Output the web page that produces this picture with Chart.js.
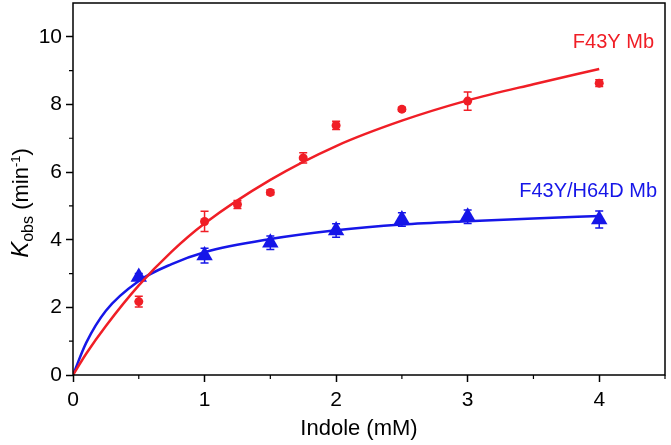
<!DOCTYPE html>
<html>
<head>
<meta charset="utf-8">
<script src="https://cdn.jsdelivr.net/npm/chart.js@4"></script>
<style>
  html, body { margin: 0; padding: 0; background: #fff; }
</style>
</head>
<body>
<canvas id="chart" width="671" height="445"></canvas>
<script>
// measured points, F43Y Mb
const indole = [0.5, 1, 1.25, 1.5, 1.75, 2, 2.5, 3, 4]
const f43y = [2.17, 4.54, 5.04, 5.4, 6.42, 7.38, 7.86, 8.1, 8.63]
const f43yErr = [0.16, 0.3, 0.12, 0.07, 0.15, 0.12, 0.06, 0.27, 0.1]

// measured points, F43Y/H64D Mb
const indoleH64D = [0.5, 1, 1.5, 2, 2.5, 3, 4]
const h64d = [2.9, 3.53, 3.91, 4.27, 4.6, 4.68, 4.6]
const h64dErr = [0.1, 0.22, 0.2, 0.2, 0.2, 0.2, 0.25]

// fitted curves
const fitX = [0, 0.1, 0.25, 0.5, 0.75, 1, 1.5, 2, 2.5, 3, 3.5, 4]
const f43yFit = [0, 0.63, 1.45, 2.65, 3.65, 4.48, 5.77, 6.77, 7.52, 8.12, 8.6, 9.05]
const h64dFit = [0, 0.95, 1.9, 2.78, 3.28, 3.63, 4.02, 4.28, 4.45, 4.55, 4.63, 4.7]

const xTickLabels = [0, 1, 2, 3, 4]
const yTickLabels = [0, 2, 4, 6, 8, 10]

const red = 'rgb(240,30,38)'
const blue = 'rgb(22,22,232)'
const FONT = '"Liberation Sans", Arial, sans-serif'

const pts = (xs, ys) => xs.map((x, i) => ({x: x, y: ys[i]}))

const noPad = s => { s.paddingTop = 0; s.paddingBottom = 0; s.paddingLeft = 0; s.paddingRight = 0 }

const extras = {
  id: 'extras',
  beforeDatasetsDraw(chart) {
    const {ctx, scales: {x, y}} = chart
    const bars = [
      [indole, f43y, f43yErr, red, 4],
      [indoleH64D, h64d, h64dErr, blue, 4]
    ]
    ctx.save()
    ctx.lineWidth = 1.5
    bars.forEach(([xs, ys, es, color, cap]) => {
      ctx.strokeStyle = color
      xs.forEach((xv, i) => {
        const px = x.getPixelForValue(xv)
        const top = y.getPixelForValue(ys[i] + es[i])
        const bot = y.getPixelForValue(ys[i] - es[i])
        ctx.beginPath()
        ctx.moveTo(px, top); ctx.lineTo(px, bot)
        ctx.moveTo(px - cap, top); ctx.lineTo(px + cap, top)
        ctx.moveTo(px - cap, bot); ctx.lineTo(px + cap, bot)
        ctx.stroke()
      })
    })
    ctx.restore()
  },
  afterDraw(chart) {
    const {ctx, chartArea: a, scales: {x, y}} = chart
    ctx.save()
    // frame
    ctx.strokeStyle = '#000'
    ctx.lineWidth = 1.5
    ctx.strokeRect(a.left, a.top, a.right - a.left, a.bottom - a.top)

    // minor ticks
    ctx.lineWidth = 1.2
    ctx.beginPath()
    x.ticks.forEach(t => {
      if (xTickLabels.includes(t.value)) return
      const px = x.getPixelForValue(t.value)
      ctx.moveTo(px, a.bottom); ctx.lineTo(px, a.bottom + 4)
    })
    y.ticks.forEach(t => {
      if (yTickLabels.includes(t.value) || t.value === y.max) return
      const py = y.getPixelForValue(t.value)
      ctx.moveTo(a.left, py); ctx.lineTo(a.left - 4, py)
    })
    ctx.stroke()

    // x title
    ctx.fillStyle = '#000'
    ctx.font = '22px ' + FONT
    ctx.textAlign = 'center'
    ctx.textBaseline = 'alphabetic'
    ctx.fillText('Indole (mM)', 359, 435)

    // y title: K_obs (min^-1)
    const parts = [
      {t: 'K', f: 'italic 24px ' + FONT, dy: 0},
      {t: 'obs', f: '16px ' + FONT, dy: 5},
      {t: ' (min', f: '22px ' + FONT, dy: 0},
      {t: '-1', f: '13px ' + FONT, dy: -8},
      {t: ')', f: '22px ' + FONT, dy: 0}
    ]
    let w = 0
    parts.forEach(p => { ctx.font = p.f; p.w = ctx.measureText(p.t).width; w += p.w })
    ctx.translate(28, 203)
    ctx.rotate(-Math.PI / 2)
    ctx.textAlign = 'left'
    let cx = -w / 2
    parts.forEach(p => {
      ctx.font = p.f
      ctx.fillText(p.t, cx, p.dy)
      cx += p.w
    })
    ctx.restore()

    // series labels
    ctx.save()
    ctx.font = '20px ' + FONT
    ctx.textAlign = 'right'
    ctx.textBaseline = 'alphabetic'
    ctx.fillStyle = red
    ctx.fillText('F43Y Mb', 654, 48)
    ctx.fillStyle = blue
    ctx.fillText('F43Y/H64D Mb', 657, 197)
    ctx.restore()
  }
}

const tickFont = {family: FONT, size: 21}

new Chart(document.getElementById('chart'), {
  type: 'scatter',
  data: {
    datasets: [
      {
        data: pts(fitX, f43yFit), showLine: true, borderColor: red, borderWidth: 2.5,
        pointRadius: 0, cubicInterpolationMode: 'monotone', order: 0
      },
      {
        data: pts(indoleH64D, h64d), backgroundColor: blue, borderWidth: 0,
        pointStyle: 'triangle', pointRadius: 9.5, order: 1
      },
      {
        data: pts(indole, f43y), backgroundColor: red, borderWidth: 0,
        pointStyle: 'circle', pointRadius: 4.5, order: 2
      },
      {
        data: pts(fitX, h64dFit), showLine: true, borderColor: blue, borderWidth: 2.5,
        pointRadius: 0, cubicInterpolationMode: 'monotone', order: 3
      }
    ]
  },
  options: {
    responsive: false,
    animation: false,
    devicePixelRatio: 1,
    layout: {autoPadding: false, padding: {top: 3, right: 6, left: 0, bottom: 0}},
    plugins: {legend: {display: false}, tooltip: {enabled: false}},
    scales: {
      x: {
        type: 'linear', min: 0, max: 4.5,
        ticks: {
          stepSize: 0.5, autoSkip: false, maxRotation: 0, color: '#000', font: tickFont, padding: 6,
          callback: v => xTickLabels.includes(v) ? String(v) : ''
        },
        grid: {
          drawOnChartArea: false, tickLength: 7, tickWidth: 1.5,
          tickColor: c => xTickLabels.includes(c.tick.value) ? '#000' : 'rgba(0,0,0,0)'
        },
        border: {display: false},
        title: {display: false},
        afterFit: s => { s.height = 70; noPad(s) }
      },
      y: {
        type: 'linear', min: 0, max: 11,
        ticks: {
          stepSize: 1, autoSkip: false, color: '#000', font: tickFont, padding: 4,
          callback: v => yTickLabels.includes(v) ? String(v) : ''
        },
        grid: {
          drawOnChartArea: false, tickLength: 7, tickWidth: 1.5,
          tickColor: c => yTickLabels.includes(c.tick.value) ? '#000' : 'rgba(0,0,0,0)'
        },
        border: {display: false},
        afterFit: s => { s.width = 73; noPad(s) }
      }
    }
  },
  plugins: [extras]
})
</script>
</body>
</html>
